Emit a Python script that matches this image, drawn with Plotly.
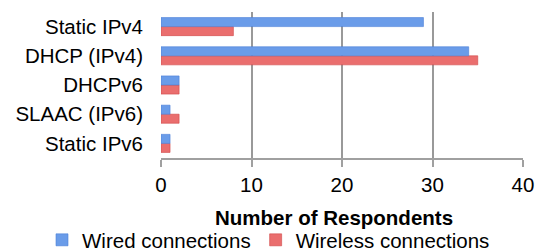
import plotly.graph_objects as go

categories = ["Static IPv6", "SLAAC (IPv6)", "DHCPv6", "DHCP (IPv4)", "Static IPv4"]
wired = [1, 1, 2, 34, 29]
wireless = [1, 2, 2, 35, 8]
x_ticks = [0, 10, 20, 30, 40]

font = "Liberation Sans, Arial, sans-serif"
FS = 20.5

fig = go.Figure()
fig.add_trace(go.Bar(y=categories, x=wireless, orientation="h", name="Wireless connections",
                     marker=dict(color="#ea6e6e", line=dict(color="#d04848", width=0.6)),
                     legendrank=2))
fig.add_trace(go.Bar(y=categories, x=wired, orientation="h", name="Wired connections",
                     marker=dict(color="#6a9ce9", line=dict(color="#4b80d6", width=0.6)),
                     legendrank=1))

fig.update_layout(
    width=535, height=250,
    margin=dict(l=161, r=12, t=12, b=92, autoexpand=False),
    paper_bgcolor="white", plot_bgcolor="white",
    barmode="group", bargap=0.38, bargroupgap=0,
    font=dict(family=font, size=FS, color="black"),
    showlegend=True,
    legend=dict(orientation="h", xref="paper", yref="paper",
                x=(42 - 161) / 362, xanchor="left", y=(158 - 240) / 146, yanchor="middle",
                font=dict(size=FS), itemwidth=30,
                tracegroupgap=0, traceorder="normal", bgcolor="rgba(0,0,0,0)"),
    xaxis=dict(range=[0, 40], tickvals=x_ticks, showgrid=True, gridcolor="#999999", gridwidth=2,
               showline=True, linecolor="#a0a0a0", linewidth=2, ticks="outside", ticklen=7,
               tickcolor="#a0a0a0", tickwidth=2, zeroline=False, automargin=False,
               tickfont=dict(size=FS)),
    yaxis=dict(showgrid=False, showline=False, ticks="", tickfont=dict(size=FS),
               automargin=False, ticklabelstandoff=17),
    annotations=[dict(text="<b>Number of Respondents</b>", xref="paper", yref="paper",
                      x=0.479, y=(158 - 217) / 146, xanchor="center", yanchor="middle",
                      showarrow=False, font=dict(size=FS))],
)

fig.write_html("out.html", config={"displayModeBar": False},
               post_script="document.body.style.margin='0';document.body.style.overflow='hidden';")
